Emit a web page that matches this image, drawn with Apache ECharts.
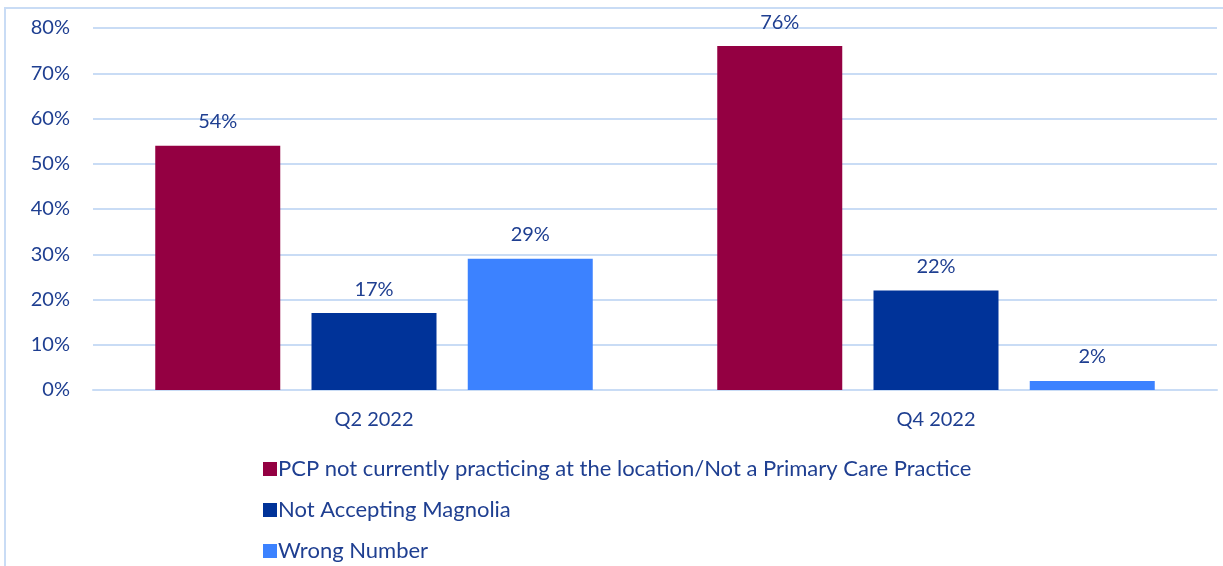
<!DOCTYPE html>
<html><head><meta charset="utf-8">
<script src="https://cdn.jsdelivr.net/npm/echarts@6/dist/echarts.min.js"></script>
<style>html,body{margin:0;padding:0;background:#fff}#c{width:1223px;height:566px}</style>
</head><body><div id="c"></div>
<script>
const categories = ['Q2 2022', 'Q4 2022'];
const seriesNames = ['PCP not currently practicing at the location/Not a Primary Care Practice', 'Not Accepting Magnolia', 'Wrong Number'];
const pcpValues = [54, 76];
const notAcceptingValues = [17, 22];
const wrongNumberValues = [29, 2];
const yTicks = [0, 10, 20, 30, 40, 50, 60, 70, 80];
const colors = ['#940042', '#003399', '#3C82FF'];
const textColor = '#1F3F91';
const font = 'Lato, "Open Sans", sans-serif';

const chart = echarts.init(document.getElementById('c'));
const mk = (name, data, i) => ({
  name, type: 'bar', data, barWidth: 125, barGap: '25%',
  itemStyle: { color: colors[i] },
  label: { show: true, position: 'top', distance: 14, formatter: p => p.value + '%', color: textColor, fontSize: 20, fontFamily: font }
});
chart.setOption({
  animation: false,
  graphic: [{ type: 'rect', shape: { x: 5, y: 8, width: 1240, height: 600 }, style: { fill: 'none', stroke: '#C9DCF5', lineWidth: 2 } }],
  grid: { left: 93, right: 6, top: 28, bottom: 176 },
  legend: {
    orient: 'vertical', left: 258, top: 453, height: 113, itemWidth: 14, itemHeight: 14, itemGap: 19,
    icon: 'rect', textStyle: { color: textColor, fontSize: 22, fontFamily: font, padding: [0, 0, 0, -4] },
    data: seriesNames
  },
  xAxis: {
    type: 'category', data: categories,
    axisLine: { show: true, lineStyle: { color: '#C9DCF5', width: 2 } },
    axisTick: { show: false },
    axisLabel: { color: textColor, fontSize: 20, fontFamily: font, margin: 20 }
  },
  yAxis: {
    type: 'value', min: yTicks[0], max: yTicks[yTicks.length - 1], interval: 10,
    axisLabel: { formatter: v => v + '%', color: textColor, fontSize: 20, fontFamily: font, margin: 23 },
    splitLine: { lineStyle: { color: '#C9DCF5', width: 2 } },
    axisLine: { show: false }, axisTick: { show: false }
  },
  series: [mk(seriesNames[0], pcpValues, 0), mk(seriesNames[1], notAcceptingValues, 1), mk(seriesNames[2], wrongNumberValues, 2)]
});
</script></body></html>
